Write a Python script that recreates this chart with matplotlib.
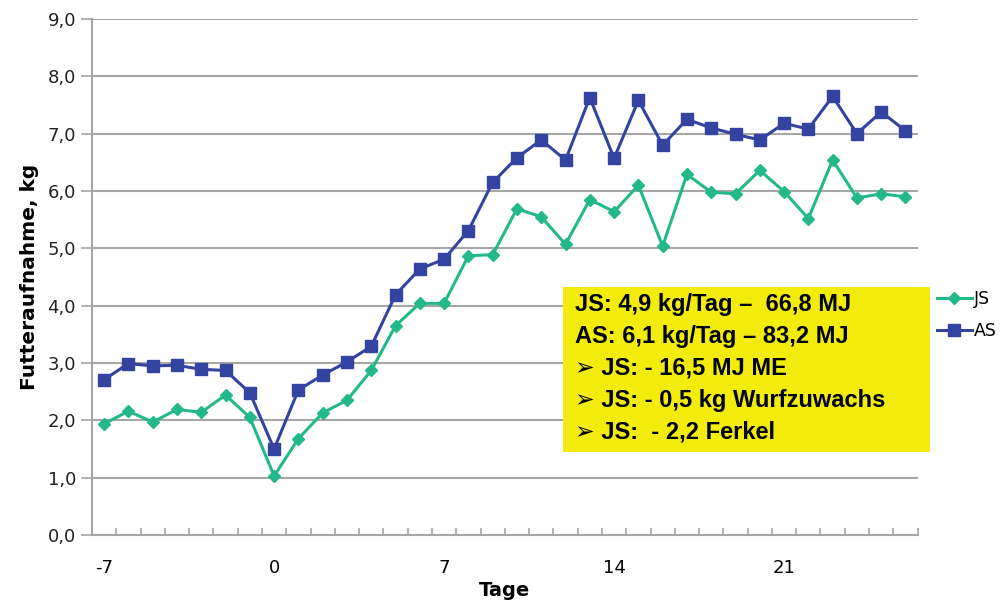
import matplotlib.pyplot as plt
from matplotlib.patches import Rectangle
from matplotlib.ticker import FixedLocator, MultipleLocator, FuncFormatter

plt.rcParams["axes.unicode_minus"] = False

# days relative to farrowing
days = list(range(-7, 27))

# feed intake, kg/day
js = [1.94, 2.16, 1.97, 2.19, 2.14, 2.44, 2.05, 1.03, 1.68, 2.13, 2.35, 2.87,
      3.65, 4.04, 4.04, 4.87, 4.89, 5.69, 5.55, 5.07, 5.85, 5.64, 6.10, 5.04,
      6.29, 5.98, 5.95, 6.36, 5.99, 5.52, 6.54, 5.88, 5.95, 5.90]
as_ = [2.71, 2.99, 2.95, 2.96, 2.89, 2.87, 2.48, 1.50, 2.53, 2.79, 3.02, 3.29,
       4.19, 4.64, 4.81, 5.31, 6.15, 6.58, 6.89, 6.54, 7.63, 6.57, 7.58, 6.80,
       7.25, 7.10, 6.99, 6.89, 7.18, 7.08, 7.65, 7.00, 7.38, 7.05]

x_labels = [-7, 0, 7, 14, 21]

box_lines = [
    "JS: 4,9 kg/Tag \u2013  66,8 MJ",
    "AS: 6,1 kg/Tag \u2013 83,2 MJ",
    "\u27a2 JS: - 16,5 MJ ME",
    "\u27a2 JS: - 0,5 kg Wurfzuwachs",
    "\u27a2 JS:  - 2,2 Ferkel",
]

JS_COLOR = "#22B88A"
AS_COLOR = "#3343A0"
GRID = "#A6A6A6"

fig = plt.figure(figsize=(10.02, 6.07), dpi=100)
ax = fig.add_axes([0.0918, 0.1186, 0.824, 0.8501])

ax.plot(days, js, color=JS_COLOR, marker="D", markersize=6, linewidth=2.2,
        label="JS")
ax.plot(days, as_, color=AS_COLOR, marker="s", markersize=8, linewidth=2.2,
        label="AS")

ax.set_xlim(-7.5, 26.5)
ax.set_ylim(0, 9)

ax.yaxis.set_major_locator(MultipleLocator(1))
ax.yaxis.set_major_formatter(FuncFormatter(lambda v, p: f"{v:.1f}".replace(".", ",")))
ax.grid(True, axis="y", color=GRID, linewidth=1.5)
ax.set_axisbelow(True)

ax.xaxis.set_major_locator(FixedLocator(x_labels))
ax.xaxis.set_minor_locator(FixedLocator([d + 0.5 for d in range(-8, 27)]))
ax.tick_params(axis="x", which="major", length=0, pad=17, labelsize=13)
ax.tick_params(axis="x", which="minor", direction="in", length=5,
               color=GRID, width=1.2)
ax.tick_params(axis="y", which="major", direction="out", length=8,
               color=GRID, width=1.2, labelsize=13, labelcolor="#222222")

for side in ("top", "right"):
    ax.spines[side].set_visible(False)
for side in ("left", "bottom"):
    ax.spines[side].set_color(GRID)
    ax.spines[side].set_linewidth(1.5)

ax.set_xlabel("Tage", fontsize=14, fontweight="bold", labelpad=3)
ax.set_ylabel("Futteraufnahme, kg", fontsize=14.5, fontweight="bold", labelpad=6)

# yellow summary box
fig.patches.append(Rectangle((563 / 1002, 1 - 452 / 607), 367 / 1002, 165 / 607,
                             transform=fig.transFigure, facecolor="#F3EB0C",
                             edgecolor="none", zorder=5))
for i, line in enumerate(box_lines):
    fig.text(575 / 1002, 1 - (305 + i * 31.7) / 607, line,
             family=["Liberation Sans", "DejaVu Sans"], fontweight="bold",
             fontsize=17, va="center", ha="left", zorder=6)

fig.legend(loc="upper left", bbox_to_anchor=(930 / 1002, 1 - 283 / 607),
           frameon=False, fontsize=12.5, handlelength=2.0, handletextpad=0.1,
           labelspacing=0.8, borderaxespad=0)

fig.savefig("out.png", dpi=100)
